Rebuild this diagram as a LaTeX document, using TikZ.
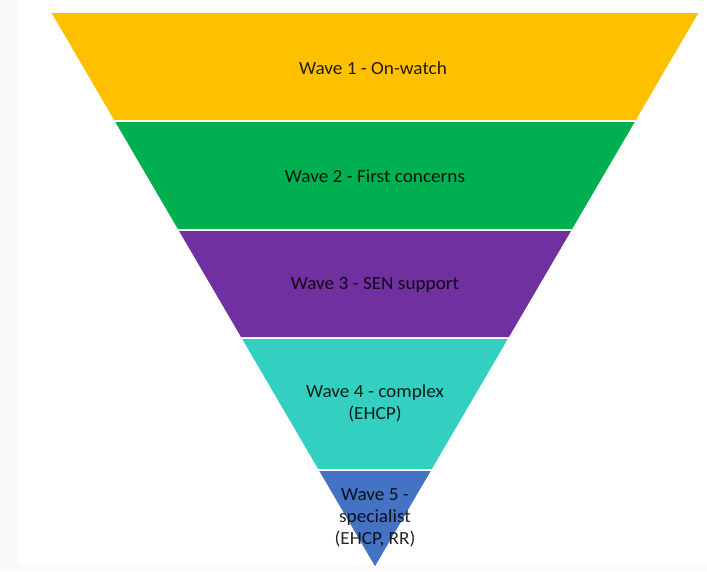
\documentclass[tikz,border=0pt]{standalone}
\usepackage{fontspec}
\setmainfont{Carlito}
\usepackage{xcolor}
\usetikzlibrary{positioning}

\definecolor{waveyellow}{HTML}{FFC000}
\definecolor{wavegreen}{HTML}{00B050}
\definecolor{wavepurple}{HTML}{7030A0}
\definecolor{waveteal}{HTML}{33D0C2}
\definecolor{waveblue}{HTML}{4472C4}

\tikzset{
  band/.style={draw=white, line width=1.5pt},
  wavetext/.style={text=black, text opacity=0.85, align=center, xscale=1.04,
    font=\fontsize{18.5}{22}\selectfont, inner sep=0pt}
}

\begin{document}
\begin{tikzpicture}[x=1pt,y=-1pt]

% page and faint grey margin
\fill[gray!4] (0,0) rectangle (707,571);
\fill[white] (18,0) rectangle (707,565);
\useasboundingbox (0,0) rectangle (707,571);

\filldraw[band, fill=waveyellow] (50,12) -- (700,12) -- (636.3,121) -- (113.7,121) -- cycle;
\filldraw[band, fill=wavegreen] (113.7,121) -- (636.3,121) -- (572.6,230) -- (177.4,230) -- cycle;
\filldraw[band, fill=wavepurple] (177.4,230) -- (572.6,230) -- (509.4,338) -- (240.6,338) -- cycle;
\filldraw[band, fill=waveteal] (240.6,338) -- (509.4,338) -- (432.3,470) -- (317.7,470) -- cycle;
\filldraw[band, fill=waveblue] (317.7,470) -- (432.3,470) -- (375,568) -- cycle;

\node[wavetext] (wave1) at (373,68) {Wave 1 - On-watch};
\node[wavetext] (wave2) at (375,176) {Wave 2 - First concerns};
\node[wavetext] (wave3) at (375,285) {Wave 3 - SEN support};
\node[wavetext] (wave4) at (375,403) {Wave 4 - complex\\(EHCP)};
\node[wavetext] (wave5) at (375,518) {Wave 5 -\\specialist\\(EHCP, RR)};

\end{tikzpicture}
\end{document}
